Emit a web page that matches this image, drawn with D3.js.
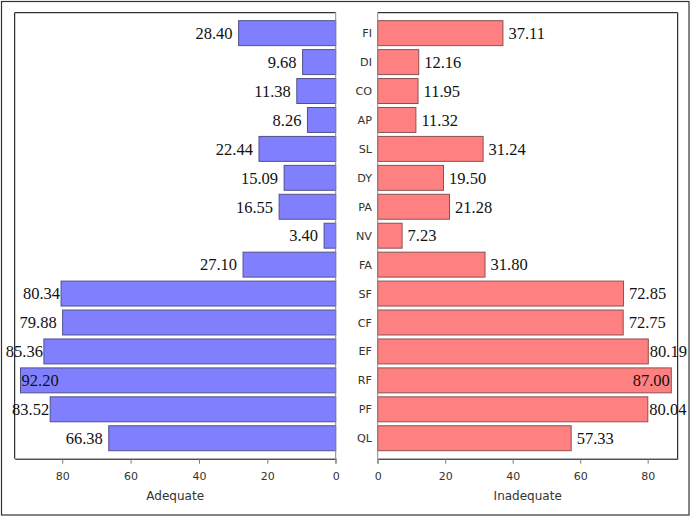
<!DOCTYPE html>
<html><head><meta charset="utf-8">
<script src="https://cdn.jsdelivr.net/npm/d3@7"></script>
<style>html,body{margin:0;padding:0;background:#fff;}</style>
</head><body>
<svg id="c" width="691" height="517"></svg>
<script>
const categories = ["FI","DI","CO","AP","SL","DY","PA","NV","FA","SF","CF","EF","RF","PF","QL"];
const adequate   = [28.40, 9.68, 11.38, 8.26, 22.44, 15.09, 16.55, 3.40, 27.10, 80.34, 79.88, 85.36, 92.20, 83.52, 66.38];
const inadequate = [37.11, 12.16, 11.95, 11.32, 31.24, 19.50, 21.28, 7.23, 31.80, 72.85, 72.75, 80.19, 87.00, 80.04, 57.33];
const ticks = [0, 20, 40, 60, 80];
const axisTitles = ["Adequate", "Inadequate"];

(function(){
const svg = d3.select("#c");
const W = 691;
const yTop = 12.7, yBot = 458.7;
const L = {x0: 14.7, x1: 335.7}, R = {x0: 377.7, x1: 677.7};

svg.append("rect").attr("x",1.5).attr("y",1.5).attr("width",687.5).attr("height",513.5)
  .attr("fill","none").attr("stroke","#333").attr("stroke-width",1.2);

const y = d3.scaleBand().domain(categories).range([yTop, yBot]).paddingInner(0.138).paddingOuter(0.276);
const xL = d3.scaleLinear().domain([0, 93.9]).range([L.x1, L.x0]);
const xR = d3.scaleLinear().domain([0, 88.9]).range([R.x0, R.x1]);

const serif = "'Liberation Serif','Times New Roman',serif";
const sans = "'DejaVu Sans',Verdana,sans-serif";

function frame(p, side){
  const g = svg.append("g");
  g.append("line").attr("x1",p.x0).attr("x2",p.x1).attr("y1",yTop).attr("y2",yTop).attr("stroke","#000");
  const outer = side==="L" ? p.x0 : p.x1;
  g.append("line").attr("x1",outer).attr("x2",outer).attr("y1",yTop).attr("y2",yBot).attr("stroke","#000");
}
frame(L,"L"); frame(R,"R");

svg.append("g").selectAll("rect").data(categories).join("rect")
  .attr("x",(d,i)=>xL(adequate[i])).attr("y",d=>y(d))
  .attr("width",(d,i)=>xL(0)-xL(adequate[i])).attr("height",y.bandwidth())
  .attr("fill","#8080FF").attr("stroke","#50508c").attr("stroke-width",1);
svg.append("g").selectAll("rect").data(categories).join("rect")
  .attr("x",xR(0)).attr("y",d=>y(d))
  .attr("width",(d,i)=>xR(inadequate[i])-xR(0)).attr("height",y.bandwidth())
  .attr("fill","#FF8080").attr("stroke","#8c5050").attr("stroke-width",1);

const axL = svg.append("g").attr("transform",`translate(0,${yBot})`)
  .call(d3.axisBottom(xL).tickValues(ticks).tickSize(5).tickSizeOuter(0).tickFormat(d3.format("d")));
const axR = svg.append("g").attr("transform",`translate(0,${yBot})`)
  .call(d3.axisBottom(xR).tickValues(ticks).tickSize(5).tickSizeOuter(0).tickFormat(d3.format("d")));
[axL, axR].forEach(a=>{
  a.select(".domain").attr("stroke","#000");
  a.selectAll(".tick line").attr("stroke","#777");
  a.selectAll(".tick text").attr("font-family",sans).attr("font-size",11).attr("fill","#333").attr("dy","0.36em").attr("y",17.5);
});
[xL(0), xR(0)].forEach(x=>{
  svg.append("line").attr("x1",x).attr("x2",x).attr("y1",yTop).attr("y2",yBot+5).attr("stroke","#888");
});

svg.append("text").attr("x",(L.x0+L.x1)/2).attr("y",500).attr("text-anchor","middle")
  .attr("font-family",sans).attr("font-size",12).attr("fill","#333").text(axisTitles[0]);
svg.append("text").attr("x",(R.x0+R.x1)/2).attr("y",500).attr("text-anchor","middle")
  .attr("font-family",sans).attr("font-size",12).attr("fill","#333").text(axisTitles[1]);

svg.append("g").selectAll("text").data(categories).join("text")
  .attr("x",372).attr("y",d=>y(d)+y.bandwidth()/2).attr("dy","0.36em")
  .attr("text-anchor","end").attr("font-family",sans).attr("font-size",11.2).attr("fill","#333").text(d=>d);

const fmt = d3.format(".2f");
const gLbl = svg.append("g").attr("font-family",serif).attr("font-size",16.5).attr("fill","#111");
categories.forEach((c,i)=>{
  const t = gLbl.append("text").attr("y",y(c)+y.bandwidth()/2).attr("dy","0.35em").text(fmt(adequate[i]));
  const w = t.node().getComputedTextLength();
  const bs = xL(adequate[i]);
  if (bs - 6 - w >= L.x0 + 4) { t.attr("x",bs-6).attr("text-anchor","end"); }
  else if (bs - 1 - w >= 0) { t.attr("x",bs-1).attr("text-anchor","end"); }
  else { t.attr("x",bs+1).attr("text-anchor","start"); }

  const u = gLbl.append("text").attr("y",y(c)+y.bandwidth()/2).attr("dy","0.35em").text(fmt(inadequate[i]));
  const wu = u.node().getComputedTextLength();
  const be = xR(inadequate[i]);
  if (be + 5.5 + wu <= R.x1 - 4) { u.attr("x",be+5.5).attr("text-anchor","start"); }
  else if (be + 1.5 + wu <= W) { u.attr("x",be+1.5).attr("text-anchor","start"); }
  else { u.attr("x",be-1.5).attr("text-anchor","end"); }
});
})();
</script>
</body></html>
